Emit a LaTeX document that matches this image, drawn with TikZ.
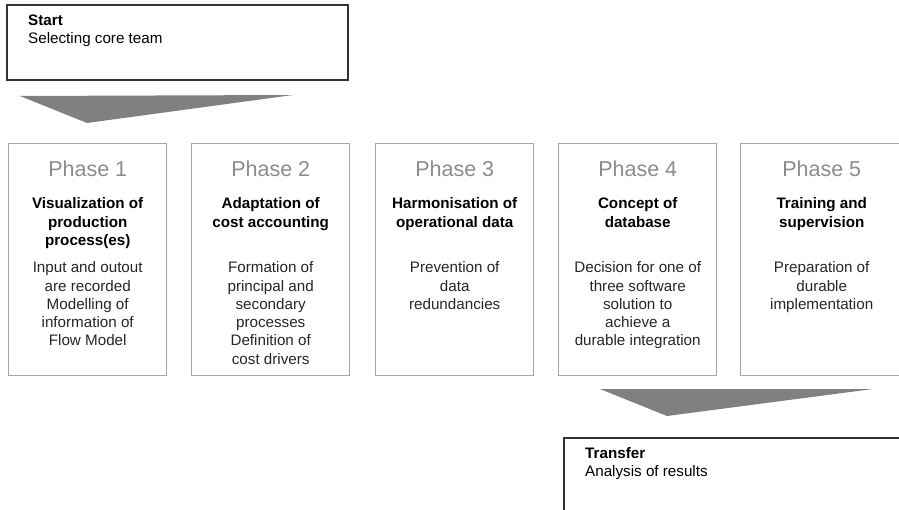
\documentclass[tikz,border=0pt]{standalone}
\usepackage{fontspec}
\setmainfont{Liberation Sans}
\usetikzlibrary{positioning}
\begin{document}
\begin{tikzpicture}[x=1pt, y=-1pt,
	frame/.style = {draw=black!80, line width=1.6pt, minimum width=341pt, minimum height=75pt, anchor=north west, inner sep=0pt},
	phase/.style = {draw=black!35, line width=1.4pt, minimum width=158pt, minimum height=232pt, anchor=north west, inner sep=0pt},
	num/.style = {font=\fontsize{21.5}{24}\selectfont, text=black!45, anchor=base, inner sep=0pt},
	head/.style = {font=\fontsize{15.2}{18.4}\selectfont\bfseries, align=center, anchor=north, inner sep=0pt},
	body/.style = {font=\fontsize{15.2}{18.3}\selectfont, align=center, anchor=north, text=black!85, inner sep=0pt},
	note/.style = {font=\fontsize{15.2}{18}\selectfont, align=left, anchor=north west, inner sep=0pt},
	tri/.style = {fill=black!50, draw=none}]
	\clip (0,0) rectangle (899,510);
	% start and transfer
	\node[frame] (start) at (6,4) {};
	\node[note] (starttext) at ([xshift=22pt,yshift=-10.5pt]start.north west) {\textbf{Start}\\Selecting core team};
	\node[frame] (transfer) at (563,437) {};
	\node[note] (transfertext) at ([xshift=22pt,yshift=-10pt]transfer.north west) {\textbf{Transfer}\\Analysis of results};
	% arrows
	\fill[tri] (20,96) -- (293,95) -- (87,123) -- cycle;
	\fill[tri] (600,389) -- (873,389) -- (667,416) -- cycle;
	% phases
	\node[phase] (p1) at (8,143) {};
	\node[phase] (p2) at (191,143) {};
	\node[phase] (p3) at (375,143) {};
	\node[phase] (p4) at (558,143) {};
	\node[phase, minimum width=162pt] (p5) at (740,143) {};
	\node[num] (n1) at ([yshift=-34pt]p1.north) {Phase 1};
	\node[num] (n2) at ([yshift=-34pt]p2.north) {Phase 2};
	\node[num] (n3) at ([yshift=-34pt]p3.north) {Phase 3};
	\node[num] (n4) at ([yshift=-34pt]p4.north) {Phase 4};
	\node[num] (n5) at ([yshift=-34pt]p5.north) {Phase 5};
	\node[head] (h1) at ([yshift=-54.5pt]p1.north) {Visualization of\\production\\process(es)};
	\node[head] (h2) at ([yshift=-54.5pt]p2.north) {Adaptation of\\cost accounting};
	\node[head] (h3) at ([yshift=-54.5pt]p3.north) {Harmonisation of\\operational data};
	\node[head] (h4) at ([yshift=-54.5pt]p4.north) {Concept of\\database};
	\node[head] (h5) at ([yshift=-54.5pt]p5.north) {Training and\\supervision};
	\node[body] (b1) at ([yshift=-118.5pt]p1.north) {Input and outout\\are recorded\\Modelling of\\information of\\Flow Model};
	\node[body] (b2) at ([yshift=-118.5pt]p2.north) {Formation of\\principal and\\secondary\\processes\\Definition of\\cost drivers};
	\node[body] (b3) at ([yshift=-118.5pt]p3.north) {Prevention of\\data\\redundancies};
	\node[body] (b4) at ([yshift=-118.5pt]p4.north) {Decision for one of\\three software\\solution to\\achieve a\\durable integration};
	\node[body] (b5) at ([yshift=-118.5pt]p5.north) {Preparation of\\durable\\implementation};
\end{tikzpicture}
\end{document}
